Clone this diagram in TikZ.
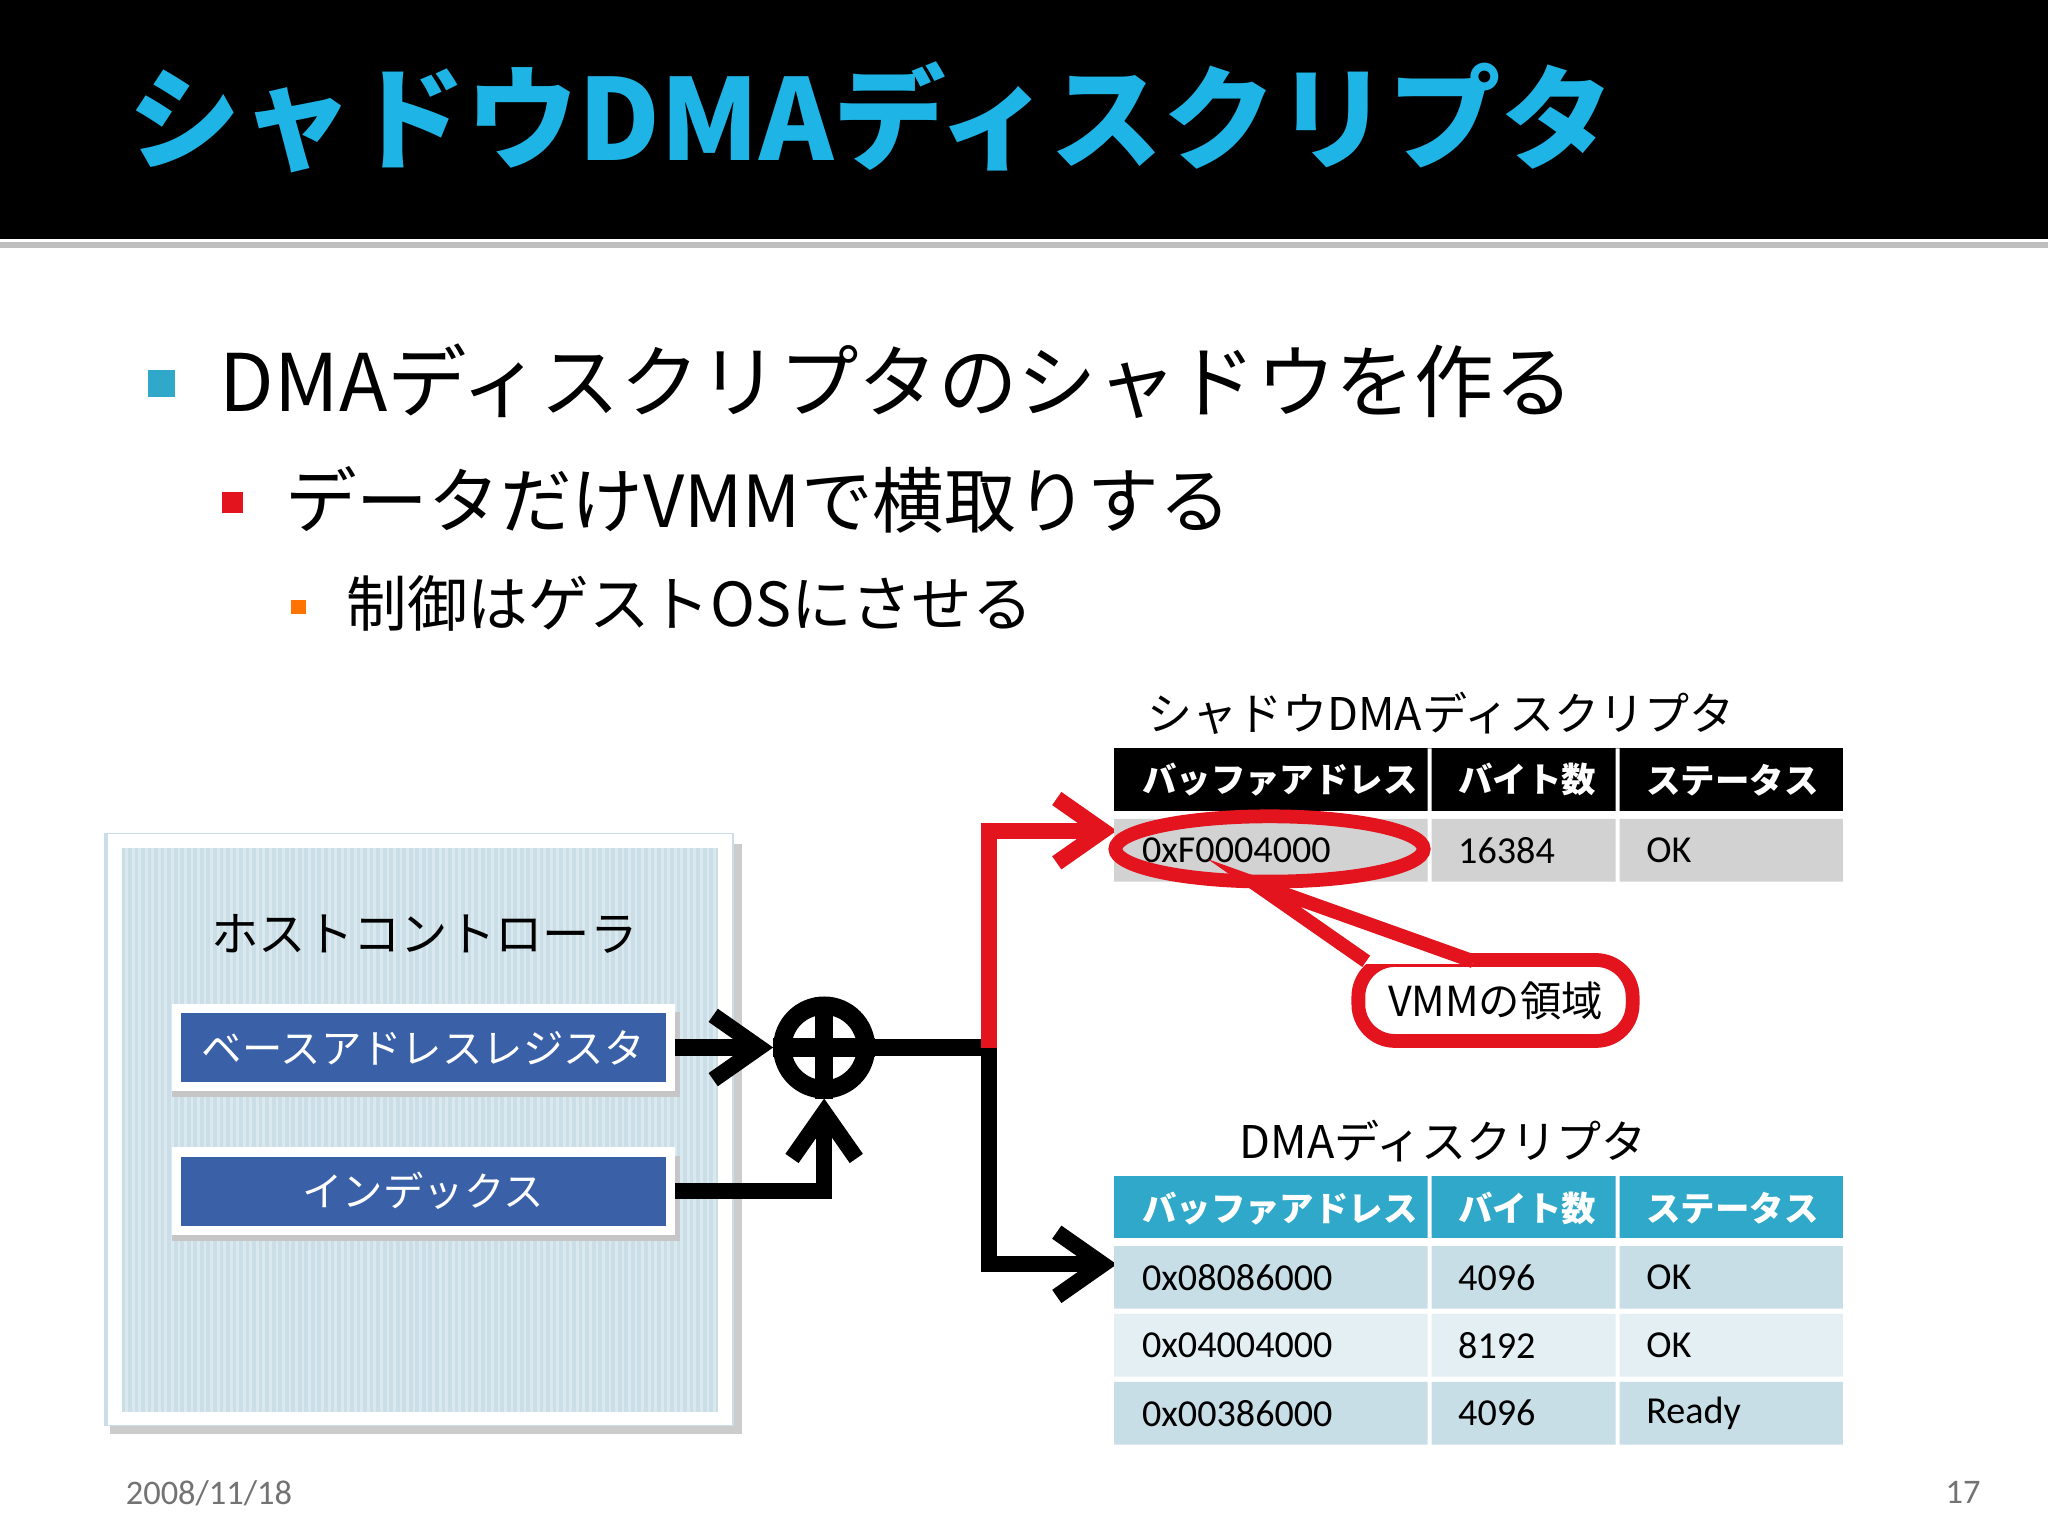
\documentclass[tikz,border=0pt]{standalone}
\usepackage{fontspec}
\setmainfont{Noto Sans CJK JP}
\newfontfamily\lat{Carlito}
\usetikzlibrary{arrows.meta,patterns}
\definecolor{ttl}{HTML}{1EB4E6}
\definecolor{hostbg}{HTML}{C9DEE6}
\definecolor{regblue}{HTML}{3A60A8}
\definecolor{hdrc}{HTML}{2FA8C9}
\definecolor{rowa}{HTML}{C8DEE7}
\definecolor{rowb}{HTML}{E4EFF3}
\definecolor{rowg}{HTML}{D2D2D2}
\definecolor{mred}{HTML}{E3141E}
\tikzset{
 cell/.style={anchor=west,font=\lat\fontsize{8.3}{10}\selectfont},
 hcell/.style={anchor=west,text=white,font=\bfseries\fontsize{7.5}{9}\selectfont},
 reg/.style={draw=white,line width=2pt,fill=regblue,text=white,minimum width=3.78cm,minimum height=0.6cm,inner sep=1pt,font=\fontsize{8.8}{10}\selectfont},
 conn/.style={line width=3.5pt,-{Straight Barb[length=10pt,width=14pt,line width=3.5pt]}}
}
\begin{document}
\begin{tikzpicture}[x=0.01cm,y=-0.01cm]
\useasboundingbox (0,0) rectangle (1568,1176);
\fill[white] (0,0) rectangle (1568,1176);
\fill[black] (0,0) rectangle (1568,183);
\fill[gray!50] (0,185) rectangle (1568,190);
\node[anchor=west,text=ttl,font=\bfseries\fontsize{24.5}{28}\selectfont] (title) at (86,90) {シャドウDMAディスクリプタ};
% bullets
\fill[hdrc] (113,283) rectangle (134,304);
\node[anchor=west,font=\fontsize{17.3}{20}\selectfont] (b1) at (156,292) {DMAディスクリプタのシャドウを作る};
\fill[mred] (170,377) rectangle (186,393);
\node[anchor=west,font=\fontsize{15.6}{18}\selectfont] (b2) at (206,383) {データだけVMMで横取りする};
\fill[orange!90!red] (223,459) rectangle (234,470);
\node[anchor=west,font=\fontsize{13.2}{16}\selectfont] (b3) at (253,462) {制御はゲストOSにさせる};
% host box
\fill[gray!40] (84,646) rectangle (568,1098);
\fill[hostbg] (80,638) rectangle (562,1092);
\draw[white,line width=3pt] (88,644) rectangle (555,1086);
\foreach \i in {92,97,...,552} \draw[white,opacity=0.35,line width=0.6pt] (\i,646) -- (\i,1084);
\node[font=\fontsize{10.3}{12}\selectfont] (hc) at (325,715) {ホストコントローラ};
\fill[gray!45] (132,775) rectangle (521,840);
\fill[gray!45] (132,885) rectangle (521,950);
\node[reg] (base) at (324,802) {ベースアドレスレジスタ};
\node[reg] (idx) at (324,912) {インデックス};
% adder
\node[circle,draw,line width=4pt,minimum size=0.64cm] (add) at (631,802) {};
\draw[line width=4pt] (add.north) -- (add.south) (add.west) -- (add.east);
\draw[conn] (base.east) -- (add.west);
\draw[conn] (idx.east) -| (add.south);
\coordinate (j) at (757,802);
\coordinate (t1) at (855,636);
\coordinate (t2) at (855,968);
\draw[line width=3.5pt] (add.east) -- (j);
\draw[conn] (j) |- (t2);
\draw[conn,mred] (j) |- (t1);
% shadow table
\node[font=\fontsize{9.8}{12}\selectfont] (st) at (1103,546) {シャドウDMAディスクリプタ};
\fill[black] (853,573) rectangle (1411,621);
\fill[rowg] (853,627) rectangle (1093,675) (1096,627) rectangle (1237,675) (1240,627) rectangle (1411,675);
\fill[white] (1093,573) rectangle (1096,621) (1237,573) rectangle (1240,621);
\node[hcell] (sh1) at (862,597) {バッファアドレス};
\node[hcell] (sh2) at (1104,597) {バイト数};
\node[hcell] (sh3) at (1248,597) {ステータス};
\node[cell] (s1) at (862,651) {0xF0004000};
\node[cell] (s2) at (1104,651) {16384};
\node[cell] (s3) at (1248,651) {OK};
% ellipse and callout
\draw[mred,line width=3pt] (972,650) ellipse [x radius=118, y radius=25];
\draw[mred,line width=3pt,fill=white,rounded corners=8pt] (1040,735) rectangle (1250,797);
\fill[white] (1043,738) -- (960,676) -- (1128,738) -- cycle;
\draw[mred,line width=3pt] (1046,736) -- (960,676) -- (1128,736);
\node[font=\fontsize{9}{11}\selectfont] (vmm) at (1145,766) {VMMの領域};
% DMA table
\node[font=\fontsize{9.8}{12}\selectfont] (dt) at (1105,874) {DMAディスクリプタ};
\fill[hdrc] (853,900) rectangle (1411,948);
\fill[white] (1093,900) rectangle (1096,948) (1237,900) rectangle (1240,948);
\foreach \y/\c in {954/rowa,1006/rowb,1058/rowa}{
 \fill[\c] (853,\y) rectangle (1093,\y+48) (1096,\y) rectangle (1237,\y+48) (1240,\y) rectangle (1411,\y+48);}
\node[hcell] (dh1) at (862,925) {バッファアドレス};
\node[hcell] (dh2) at (1104,925) {バイト数};
\node[hcell] (dh3) at (1248,925) {ステータス};
\node[cell] (d11) at (862,978) {0x08086000};
\node[cell] (d12) at (1104,978) {4096};
\node[cell] (d13) at (1248,978) {OK};
\node[cell] (d21) at (862,1030) {0x04004000};
\node[cell] (d22) at (1104,1030) {8192};
\node[cell] (d23) at (1248,1030) {OK};
\node[cell] (d31) at (862,1082) {0x00386000};
\node[cell] (d32) at (1104,1082) {4096};
\node[cell] (d33) at (1248,1082) {Ready};
% footer
\node[text=gray!90!black,font=\lat\fontsize{7.5}{8}\selectfont] (date) at (160,1143) {2008/11/18};
\node[text=gray!90!black,font=\lat\fontsize{7.5}{8}\selectfont] (pg) at (1503,1143) {17};
\end{tikzpicture}
\end{document}
